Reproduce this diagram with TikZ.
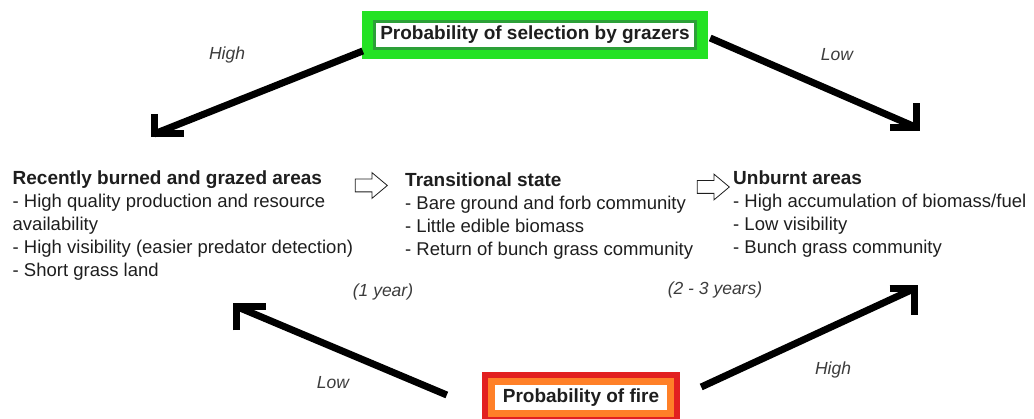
\documentclass[tikz,border=0pt]{standalone}
\usepackage{fontspec}
\setmainfont{Liberation Sans}
\usetikzlibrary{positioning, shapes.arrows, calc, fit, backgrounds}
\definecolor{grazegreen}{RGB}{36,226,36}
\definecolor{grazedark}{RGB}{44,160,56}
\definecolor{firered}{RGB}{226,32,32}
\definecolor{fireorange}{RGB}{255,128,40}
\definecolor{inkgray}{RGB}{30,30,30}
\definecolor{notegray}{RGB}{60,60,60}
\newcommand{\statehead}[1]{{\fontsize{19}{23}\selectfont\bfseries #1}}

\begin{document}
\begin{tikzpicture}[
  x=1pt, y=-1pt,
  txt/.style={align=left, anchor=base west, inner sep=0pt, text=inkgray,
              font=\fontsize{18.5}{23}\selectfont},
  note/.style={inner sep=0pt, text=notegray,
               font=\fontsize{17.5}{20}\selectfont\itshape},
  probbox/.style={fill=white, inner sep=0pt, text=inkgray,
                  font=\fontsize{19}{22}\selectfont\bfseries},
  hollow/.style={single arrow, draw=inkgray, fill=white, line width=0.8pt,
                 minimum height=32pt, inner xsep=0pt, inner ysep=6pt,
                 single arrow head extend=6.5pt, single arrow tip angle=80},
  heavy/.style={line width=7pt, draw=black},
  barb/.style={line width=7pt, draw=black, line join=miter},
]
  \useasboundingbox (0,0) rectangle (1034,419);

  % ═══ Probability boxes ══════════════════════════════════════
  \node[probbox, draw=grazedark, line width=3pt, minimum width=321pt,
        minimum height=27pt] (graze) at (535,35) {Probability of selection by grazers};
  \node[probbox, draw=fireorange, line width=7pt, minimum width=179pt,
        minimum height=32pt] (fire) at (581,397.5) {Probability of fire};
  \begin{pgfonlayer}{background}
    \node[fill=grazegreen, fit=(graze), inner xsep=11pt, inner ysep=9pt] (grazeframe) {};
    \node[fill=firered, fit=(fire), inner sep=6pt] (fireframe) {};
  \end{pgfonlayer}

  % ═══ States (anchored at the baseline of the last line) ═════
  \node[txt] (burned) at (12.5,277) {\statehead{Recently burned and grazed areas}\\
    - High quality production and resource\\availability\\
    - High visibility (easier predator detection)\\- Short grass land};
  \node[txt] (trans) at (405,256) {\statehead{Transitional state}\\
    - Bare ground and forb community\\- Little edible biomass\\
    - Return of bunch grass community};
  \node[txt] (unburnt) at (733,254) {\statehead{Unburnt areas}\\
    - High accumulation of biomass/fuel\\- Low visibility\\
    - Bunch grass community};

  % hollow arrows between states
  \node[hollow] (step1) at (367.5,185.5) {};
  \node[hollow] (step2) at (709.5,187) {};

  % time notes
  \node[note] (oneyear)  at (383,292) {(1 year)};
  \node[note] (twoyears) at (715,290) {(2 - 3 years)};

  % ═══ Heavy arrows ═══════════════════════════════════════════
  \coordinate (tipBurnTop) at (154,134);
  \coordinate (tipUnbTop)  at (916.5,127.5);
  \coordinate (tipBurnBot) at (236.5,306.5);
  \coordinate (tipUnbBot)  at (914.5,288.5);
  \coordinate (fireL) at ($(fireframe.west)+(-35,-2.5)$);
  \coordinate (fireR) at ($(fireframe.east)+(21,-10.5)$);

  \draw[heavy] ($(grazeframe.west)+(1,16)$) -- (tipBurnTop);
  \draw[heavy] ($(grazeframe.east)+(2,3)$) -- (tipUnbTop);
  \draw[heavy] (fireL) -- (tipBurnBot);
  \draw[heavy] (fireR) -- (tipUnbBot);

  \draw[barb] ($(tipBurnTop)+(0,-20)$) -- (tipBurnTop) -- ++(30,0);
  \draw[barb] ($(tipUnbTop)+(0,-24)$) -- (tipUnbTop) -- ++(-27,0);
  \draw[barb] ($(tipBurnBot)+(0,24)$) -- (tipBurnBot) -- ++(29,0);
  \draw[barb] ($(tipUnbBot)+(-25,0)$) -- (tipUnbBot) -- ++(0,27);

  % arrow labels
  \node[note] (grazeHigh) at (227,55)  {High};
  \node[note] (grazeLow)  at (837,55)  {Low};
  \node[note] (fireLow)   at (333,383) {Low};
  \node[note] (fireHigh)  at (833,370) {High};
\end{tikzpicture}
\end{document}
